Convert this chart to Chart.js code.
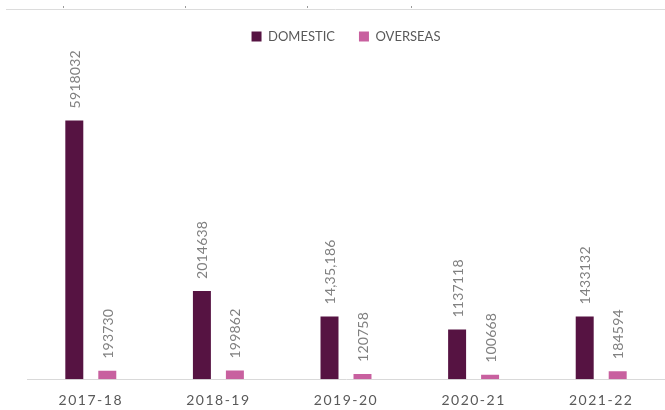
<!DOCTYPE html>
<html>
<head>
<meta charset="utf-8">
<script src="https://cdn.jsdelivr.net/npm/chart.js@4.4.0/dist/chart.umd.min.js"></script>
<style>
    html, body { margin: 0; padding: 0; background: #ffffff; }
    #wrap { width: 665px; height: 410px; }
</style>
</head>
<body>
<div id="wrap"><canvas id="chart" width="665" height="410"></canvas></div>
<script>
// Data
const years = ['2017-18', '2018-19', '2019-20', '2020-21', '2021-22'];
const domestic = [5918032, 2014638, 1435186, 1137118, 1433132];
const overseas = [193730, 199862, 120758, 100668, 184594];
// labels exactly as printed on the chart
const domesticLabels = ['5918032', '2014638', '14,35,186', '1137118', '1433132'];
const overseasLabels = ['193730', '199862', '120758', '100668', '184594'];

const labelSets = [domesticLabels, overseasLabels];

// rotated value labels above each bar
const valueLabels = {
    id: 'valueLabels',
    afterDatasetsDraw(chart) {
        const ctx = chart.ctx;
        ctx.save();
        ctx.font = '14px Lato';
        ctx.letterSpacing = '0.2px';
        ctx.fillStyle = '#808080';
        ctx.textAlign = 'left';
        ctx.textBaseline = 'middle';
        chart.data.datasets.forEach((ds, i) => {
            chart.getDatasetMeta(i).data.forEach((bar, j) => {
                ctx.save();
                ctx.translate(bar.x + 1, bar.y - 12);
                ctx.rotate(-Math.PI / 2);
                ctx.fillText(labelSets[i][j], 0, 0);
                ctx.restore();
            });
        });
        ctx.restore();
    }
};

// thin rule along the top edge, like the cropped picture
const topRule = {
    id: 'topRule',
    beforeDraw(chart) {
        const ctx = chart.ctx;
        ctx.save();
        ctx.strokeStyle = '#dcdcdc';
        ctx.lineWidth = 1;
        ctx.beginPath();
        ctx.moveTo(6, 9.5);
        ctx.lineTo(chart.width, 9.5);
        ctx.stroke();
        ctx.fillStyle = '#9a9a9a';
        [63, 185, 307, 411].forEach(x => ctx.fillRect(x, 6, 1, 2));
        ctx.restore();

        // letter spaced year labels
        const xs = chart.scales.x;
        if (xs && !xs._spaced) {
            const orig = xs.drawLabels.bind(xs);
            xs.drawLabels = function (area) {
                this.ctx.save();
                this.ctx.letterSpacing = '1.5px';
                orig(area);
                this.ctx.restore();
            };
            xs._spaced = true;
        }
    }
};

const ctx = document.getElementById('chart').getContext('2d');
const chart = new Chart(ctx, {
    type: 'bar',
    data: {
        labels: years,
        datasets: [{
            label: 'DOMESTIC',
            data: domestic,
            backgroundColor: '#561342',
            borderWidth: 0
        }, {
            label: 'OVERSEAS',
            data: overseas,
            backgroundColor: '#c8609f',
            borderWidth: 0
        }]
    },
    options: {
        responsive: false,
        animation: false,
        devicePixelRatio: 1,
        layout: {
            padding: { top: 6, left: 27, right: 0, bottom: -12 }
        },
        datasets: {
            bar: {
                categoryPercentage: 0.517,
                barPercentage: 0.545
            }
        },
        plugins: {
            legend: {
                position: 'top',
                labels: {
                    boxWidth: 10,
                    boxHeight: 10,
                    padding: 24,
                    color: '#595959',
                    font: { family: 'Lato', size: 13 }
                }
            },
            tooltip: { enabled: false }
        },
        scales: {
            x: {
                grid: { display: false, drawTicks: false },
                border: { display: true, color: '#d9d9d9', width: 1 },
                ticks: {
                    color: '#595959',
                    padding: 13,
                    font: { family: 'Lato', size: 14 }
                }
            },
            y: {
                display: false,
                min: 0,
                max: 7460000
            }
        }
    },
    plugins: [valueLabels, topRule]
});
</script>
</body>
</html>
